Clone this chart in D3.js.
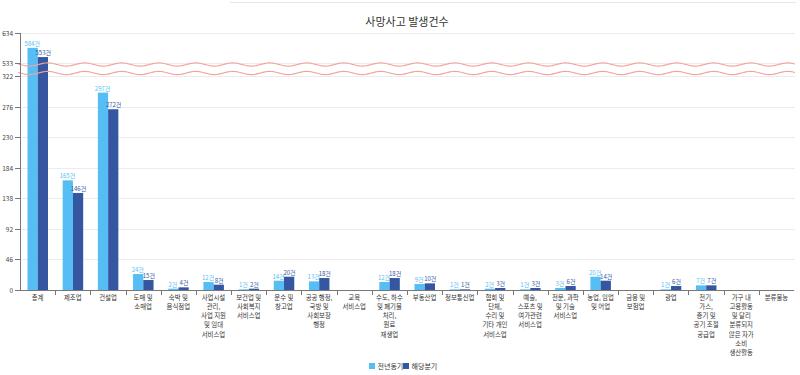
<!DOCTYPE html>
<html><head><meta charset="utf-8">
<script src="https://cdn.jsdelivr.net/npm/d3@7"></script>
<style>body{margin:0;background:#fff}svg{font-family:"Noto Sans CJK KR","Noto Sans",sans-serif}</style>
</head><body><svg id="c" width="800" height="375"></svg>
<script>
const categories = ["총계","제조업","건설업","도매 및\n소매업","숙박 및\n음식점업","사업시설\n관리,\n사업 지원\n및 임대\n서비스업","보건업 및\n사회복지\n서비스업","운수 및\n창고업","공공 행정,\n국방 및\n사회보장\n행정","교육\n서비스업","수도, 하수\n및 폐기물\n처리,\n원료\n재생업","부동산업","정보통신업","협회 및\n단체,\n수리 및\n기타 개인\n서비스업","예술,\n스포츠 및\n여가관련\n서비스업","전문, 과학\n및 기술\n서비스업","농업, 임업\n및 어업","금융 및\n보험업","광업","전기,\n가스,\n증기 및\n공기 조절\n공급업","가구 내\n고용활동\n및 달리\n분류되지\n않은 자가\n소비\n생산활동","분류불능"];
const prevYear = [584,165,297,24,2,12,1,14,13,null,12,9,1,2,1,3,20,null,1,7,null,null];
const thisQuarter = [553,146,272,15,4,8,2,20,18,null,18,10,1,3,3,6,14,null,6,7,null,null];
const seriesNames = ["전년동기","해당분기"];
const yTicks = [0,46,92,138,184,230,276,322,533,634];
const breakLow = 322, breakHigh = 533;

const colors = ["#56bef4","#3557a2"];
const svg = d3.select("#c");
const L = 20, R = 794, B = 290;
const x = d3.scaleBand().domain(d3.range(categories.length)).range([L,R]);
const y = d3.scaleLinear().domain([0,breakLow,breakHigh,634]).range([B,76,63,33]);
const xs = d3.scaleBand().domain([0,1]).range([0,20.5]);

svg.append("line").attr("x1",230).attr("x2",796).attr("y1",2.5).attr("y2",2.5).attr("stroke","#e6e6e6");

svg.append("text").attr("x",407).attr("y",26).attr("text-anchor","middle").attr("font-size",11).attr("fill","#333").text("사망사고 발생건수");

svg.append("g").selectAll("line").data(yTicks).join("line")
  .attr("x1",L).attr("x2",795).attr("y1",d=>Math.round(y(d))+0.5).attr("y2",d=>Math.round(y(d))+0.5)
  .attr("stroke","#ececec");

const series = [prevYear, thisQuarter];
series.forEach((vals,si)=>{
  const g = svg.append("g");
  vals.forEach((v,i)=>{
    if(v==null) return;
    const bx = x(i)+7.5+xs(si);
    g.append("rect").attr("x",bx).attr("y",y(v)).attr("width",xs.bandwidth()).attr("height",B-y(v)).attr("fill",colors[si]);
    g.append("text").attr("x",bx+xs.bandwidth()/2 + (si? 0.4 : -0.4)).attr("y",y(v)-2).attr("text-anchor","middle")
      .attr("font-size",6).attr("fill",colors[si]).text(v+"건");
  });
});

const waveX = d3.range(L-2, 796, 1);
const wave = (y0)=>d3.line().curve(d3.curveBasis)(waveX.map(px=>[px, y0 + 1.6*Math.sin((px-L)/37*2*Math.PI)]));
[64.5,73].forEach(yy=>svg.append("path").attr("d",wave(yy)).attr("stroke","#f2a39b").attr("stroke-width",1.1).attr("fill","none"));

const ya = svg.append("g");
ya.append("line").attr("x1",L+0.5).attr("x2",L+0.5).attr("y1",33).attr("y2",B).attr("stroke","#777");
yTicks.forEach(t=>{
  const yy = Math.round(y(t))+0.5;
  ya.append("line").attr("x1",15).attr("x2",L).attr("y1",yy).attr("y2",yy).attr("stroke","#777");
  ya.append("text").attr("x",13).attr("y",yy+2.3).attr("text-anchor","end").attr("font-size",6.5).attr("fill","#444").text(t);
});

const xa = svg.append("g");
xa.append("line").attr("x1",L).attr("x2",R).attr("y1",B+0.5).attr("y2",B+0.5).attr("stroke","#777");
d3.range(1,categories.length).forEach(i=>{
  const xx = Math.round(x(i))+0.5;
  xa.append("line").attr("x1",xx).attr("x2",xx).attr("y1",B).attr("y2",B+5).attr("stroke","#777");
});
categories.forEach((c,i)=>{
  const t = xa.append("text").attr("x",x(i)+x.bandwidth()/2).attr("y",299.5).attr("text-anchor","middle").attr("font-size",6.4).attr("fill","#333");
  c.split("\n").forEach((ln,k)=>t.append("tspan").attr("x",x(i)+x.bandwidth()/2).attr("dy",k?9.3:0).text(ln));
});

const lg = svg.append("g");
lg.append("rect").attr("x",369).attr("y",363).attr("width",6).attr("height",6).attr("fill",colors[0]);
lg.append("text").attr("x",377.5).attr("y",369).attr("font-size",7).attr("fill","#333").text(seriesNames[0]);
lg.append("rect").attr("x",403).attr("y",363).attr("width",6).attr("height",6).attr("fill",colors[1]);
lg.append("text").attr("x",411.5).attr("y",369).attr("font-size",7).attr("fill","#333").text(seriesNames[1]);
</script></body></html>
